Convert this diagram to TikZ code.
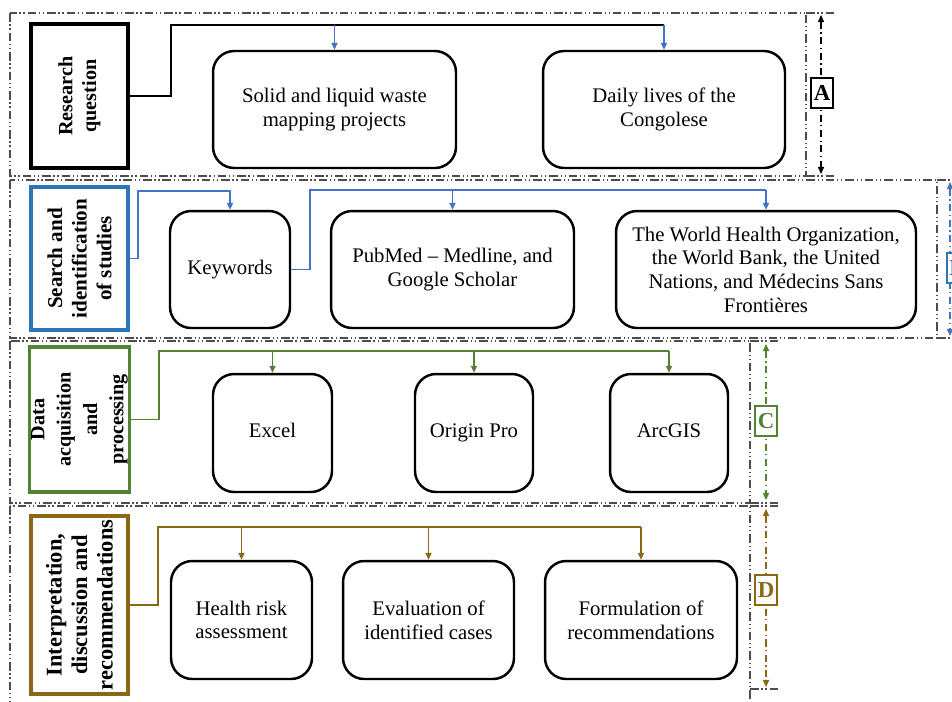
\documentclass[tikz,border=0pt]{standalone}
\usepackage{fontspec}
\setmainfont{Liberation Serif}
\usepackage{xcolor}
\usepackage{tikz}
\usetikzlibrary{arrows.meta}
\usetikzlibrary{positioning}

\definecolor{frameGray}{HTML}{4D4D4D}
\definecolor{stepBlue}{HTML}{2E75B6}
\definecolor{linkBlue}{HTML}{4472C4}
\definecolor{stepGreen}{HTML}{548235}
\definecolor{stepBrown}{HTML}{8B6914}

\begin{document}
\begin{tikzpicture}[x=0.02cm,y=-0.02cm,
	>={Triangle[length=4pt,width=3.5pt]},
	item/.style={draw,line width=1.4pt,rounded corners=12pt,align=center,
		font=\fontsize{11.8}{13.5}\selectfont,minimum height=2.34cm},
	title/.style={draw,line width=1.8pt,rotate=90,align=center,
		font=\fontsize{11.5}{13.5}\selectfont\bfseries,minimum height=1.94cm,inner sep=1pt},
	frame/.style={frameGray,line width=0.65pt,
		dash pattern=on 5pt off 1.5pt on 0.8pt off 1.5pt on 0.8pt off 1.5pt},
	span/.style={<->,line width=0.6pt,dash pattern=on 4pt off 2pt on 0.8pt off 2pt},
	tag/.style={draw,fill=white,line width=0.9pt,inner sep=1.5pt,minimum height=0.6cm,
		font=\fontsize{13}{15}\selectfont\bfseries},
	link/.style={line width=0.9pt}]

	\useasboundingbox (0,0) rectangle (952,701);
	\clip (0,0) rectangle (952,701);

	% section frames and the brackets on the right
	\draw [frame] (10,13) rectangle (806,176);
	\draw [frame] (806,13) -- (835,13) (806,176) -- (835,176);
	\draw [frame] (10,180) rectangle (937,338);
	\draw [frame] (937,180) -- (966,180) (937,338) -- (966,338);
	\draw [frame] (10,341) rectangle (750,503);
	\draw [frame] (750,341) -- (778,341) (750,503) -- (778,503);
	\draw [frame] (10,506) rectangle (750,720);
	\draw [frame] (750,506) -- (778,506) (750,689) -- (778,689);

	\draw [span] (821,15) -- (821,174);
	\node [tag] (tagA) at (822,93) {A};
	\draw [span,linkBlue] (950,182) -- (950,336);
	\node [tag,draw=stepBlue,text=stepBlue] (tagB) at (957,268) {B};
	\draw [span,stepGreen] (766,344) -- (766,500);
	\node [tag,draw=stepGreen,text=stepGreen] (tagC) at (766,421) {C};
	\draw [span,stepBrown] (766,509) -- (766,687);
	\node [tag,draw=stepBrown,text=stepBrown] (tagD) at (766,590) {D};

	% A
	\node [title,minimum width=2.88cm] (rq) at (79.5,96) {Research\\question};
	\node [item,minimum width=4.86cm] (sol) at (334.5,109.5) {Solid and liquid waste\\mapping projects};
	\node [item,minimum width=4.84cm] (dly) at (664,109.5) {Daily lives of the\\Congolese};

	\coordinate (busA) at (171,25);
	\draw [link] (rq.south) -| (busA) -- (busA -| dly.north);
	\draw [link,->,linkBlue] (busA -| sol.north) -- (sol.north);
	\draw [link,->,linkBlue] (busA -| dly.north) -- (dly.north);

	% B
	\node [title,draw=stepBlue,minimum width=2.86cm,
		font=\fontsize{12}{14}\selectfont\bfseries] (sis) at (79.5,258.5) {Search and\\identification\\of studies};
	\node [item,minimum width=2.4cm] (kw) at (230,269.5) {\strut Keywords};
	\node [item,minimum width=4.86cm] (pub) at (452.5,269.5) {PubMed -- Medline, and\\Google Scholar};
	\node [item,minimum width=6cm] (who) at (766,269.5) {The World Health Organization,\\the World Bank, the United\\Nations, and Médecins Sans\\Frontières};

	\coordinate (busB1) at (138,191);
	\coordinate (busB2) at (310,190);
	\draw [link,linkBlue,->] (sis.south) -| (busB1) -| (kw.north);
	\draw [link,linkBlue] (kw.east) -| (busB2) -- (busB2 -| who.north);
	\draw [link,linkBlue,->] (busB2 -| pub.north) -- (pub.north);
	\draw [link,linkBlue,->] (busB2 -| who.north) -- (who.north);

	% C
	\node [title,draw=stepGreen,minimum width=2.9cm,
		font=\fontsize{11.5}{15}\selectfont\bfseries] (dap) at (79.5,419.5)
		{Data\\acquisition\\and\\processing};
	\node [item,minimum width=2.38cm,minimum height=2.36cm] (exc) at (272.5,433) {\strut Excel};
	\node [item,minimum width=2.36cm,minimum height=2.36cm] (org) at (474,433) {\strut Origin Pro};
	\node [item,minimum width=2.36cm,minimum height=2.36cm] (arc) at (669,433) {\strut ArcGIS};

	\coordinate (busC) at (159,351);
	\draw [link,stepGreen] (dap.south) -| (busC) -- (busC -| arc.north);
	\foreach \n in {exc,org,arc}
		\draw [link,stepGreen,->] (busC -| \n.north) -- (\n.north);

	% D
	\node [title,draw=stepBrown,minimum width=3.56cm,
		font=\fontsize{12.8}{14.5}\selectfont\bfseries] (idr) at (79.5,605) {Interpretation,\\discussion and\\recommendations};
	\node [item,minimum width=2.82cm,minimum height=2.36cm] (hra) at (241.5,620) {Health risk\\assessment};
	\node [item,minimum width=3.42cm,minimum height=2.36cm] (evl) at (428.5,620) {Evaluation of\\identified cases};
	\node [item,minimum width=3.84cm,minimum height=2.36cm] (frm) at (641,620) {Formulation of\\recommendations};

	\coordinate (busD) at (158,527);
	\draw [link,stepBrown] (idr.south) -| (busD) -- (busD -| frm.north);
	\foreach \n in {hra,evl,frm}
		\draw [link,stepBrown,->] (busD -| \n.north) -- (\n.north);

\end{tikzpicture}
\end{document}
